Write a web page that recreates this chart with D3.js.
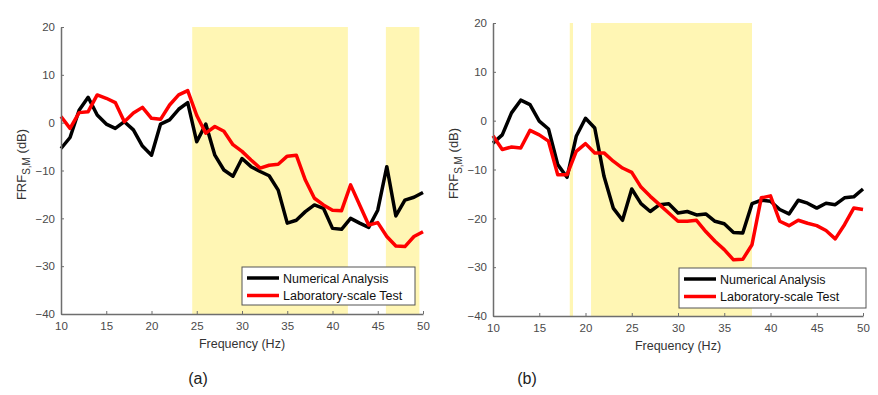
<!DOCTYPE html>
<html>
<head>
<meta charset="utf-8">
<script src="https://cdn.jsdelivr.net/npm/d3@7"></script>
<style>
  body { margin: 0; background: #fff; }
  svg text { font-family: "Liberation Sans", Arial, sans-serif; }
  .axis path, .axis line { stroke: #6e6e6e; }
  .axis text { fill: #4a4a4a; font-size: 11.5px; }
</style>
</head>
<body>
<div id="chart"></div>
<script>

// frequency points (Hz)
var freq = [10,11,12,13,14,15,16,17,18,19,20,21,22,23,24,25,26,27,28,29,30,
            31,32,33,34,35,36,37,38,39,40,41,42,43,44,45,46,47,48,49,50];

// panel (a)
var numA = [-5.4,-3.1,2.6,5.3,1.6,-0.3,-1.2,0.2,-1.5,-4.9,-6.8,-0.3,0.6,2.8,4.2,-4.0,-0.3,-6.8,-9.9,-11.2,-7.5,
            -9.2,-10.2,-11.1,-14.1,-21.0,-20.4,-18.6,-17.2,-17.9,-22.1,-22.3,-20.0,-21.0,-21.9,-18.3,-9.2,-19.5,-16.2,-15.6,-14.6];
var labA = [1.3,-1.2,2.1,2.3,5.8,5.1,4.2,0.2,2.0,3.2,0.9,0.7,3.7,5.8,6.7,1.5,-2.2,-0.8,-1.8,-4.6,-6.0,
            -7.8,-9.5,-8.9,-8.7,-7.0,-6.8,-12.0,-15.8,-17.2,-18.3,-18.4,-13.0,-17.2,-21.4,-20.9,-23.8,-25.8,-25.9,-23.8,-22.8];
var bandsA = [[24.5, 41.7], [45.9, 49.6]];

// panel (b)
var numB = [-4.6,-2.9,1.6,4.2,3.3,-0.1,-1.7,-9.0,-11.6,-3.2,0.5,-1.5,-11.4,-17.9,-20.4,-14.0,-17.0,-18.6,-17.2,-17.0,-18.9,
            -18.6,-19.3,-19.1,-20.6,-21.1,-22.9,-23.0,-17.0,-16.3,-16.5,-18.2,-19.1,-16.3,-16.9,-17.9,-16.9,-17.2,-15.8,-15.6,-14.0];
var labB = [-3.1,-5.9,-5.4,-5.6,-2.0,-2.9,-4.2,-11.1,-11.1,-6.3,-4.7,-6.6,-6.6,-8.3,-9.7,-10.6,-13.6,-15.5,-17.2,-18.9,-20.6,
            -20.6,-20.4,-22.7,-24.7,-26.4,-28.5,-28.4,-25.4,-15.8,-15.4,-20.6,-21.5,-20.4,-21.0,-21.5,-22.5,-24.2,-21.3,-17.9,-18.2];
var bandsB = [[18.3, 18.65], [20.6, 38.0]];

var xTicks = [10,15,20,25,30,35,40,45,50];
var yTicks = [-40,-30,-20,-10,0,10,20];
var seriesNames = ["Numerical Analysis", "Laboratory-scale Test"];
var seriesColors = ["#000000", "#ff0000"];

var svg = d3.select("#chart").append("svg")
  .attr("width", 878)
  .attr("height", 395);

var panels = [
  { num: numA, lab: labA, bands: bandsA, caption: "(a)", capX: 198,
    left: 61, right: 423, top: 27, bottom: 314, legend: {x: 242, y: 267, w: 173, h: 38} },
  { num: numB, lab: labB, bands: bandsB, caption: "(b)", capX: 527,
    left: 493, right: 863, top: 23, bottom: 316, legend: {x: 679, y: 268, w: 187, h: 40} }
];

panels.forEach(function(p) {
  var x = d3.scaleLinear().domain([10, 50]).range([p.left, p.right]);
  var y = d3.scaleLinear().domain([-40, 20]).range([p.bottom, p.top]);
  var g = svg.append("g");

  // shaded frequency bands
  g.selectAll(".band")
    .data(p.bands)
    .enter().append("rect")
    .attr("x", function(d) { return x(d[0]); })
    .attr("width", function(d) { return x(d[1]) - x(d[0]); })
    .attr("y", y(20))
    .attr("height", y(-40) - y(20))
    .attr("fill", "#fff6b4");

  // lines
  var line = d3.line()
    .x(function(d, i) { return x(freq[i]); })
    .y(function(d) { return y(d); });

  [p.num, p.lab].forEach(function(s, k) {
    g.append("path")
      .datum(s)
      .attr("d", line)
      .attr("fill", "none")
      .attr("stroke", seriesColors[k])
      .attr("stroke-width", 3.5)
      .attr("stroke-linejoin", "round");
  });

  // axes (ticks pointing inward like matlab)
  g.append("g")
    .attr("class", "axis")
    .attr("transform", "translate(0," + p.bottom + ")")
    .call(d3.axisBottom(x).tickValues(xTicks).tickSizeInner(-3).tickSizeOuter(0).tickPadding(8))
    .call(function(a) { a.select(".domain").attr("stroke-width", 1.5); });

  g.append("g")
    .attr("class", "axis")
    .attr("transform", "translate(" + p.left + ",0)")
    .call(d3.axisLeft(y).tickValues(yTicks).tickSizeInner(-3).tickSizeOuter(0).tickPadding(6))
    .call(function(a) { a.select(".domain").attr("stroke-width", 1.5); });

  // axis labels
  g.append("text")
    .attr("x", (p.left + p.right) / 2)
    .attr("y", p.bottom + 34)
    .attr("text-anchor", "middle")
    .attr("font-size", 12.5)
    .attr("fill", "#333")
    .text("Frequency (Hz)");

  var yl = g.append("text")
    .attr("transform", "translate(" + (p.left - 35) + "," + ((p.top + p.bottom) / 2 - 6) + ") rotate(-90)")
    .attr("text-anchor", "middle")
    .attr("font-size", 13)
    .attr("fill", "#333");
  yl.append("tspan").text("FRF");
  yl.append("tspan").attr("font-size", 10).attr("dy", 4).text("S,M");
  yl.append("tspan").attr("dy", -4).text(" (dB)");

  // legend
  var L = p.legend;
  var lg = g.append("g").attr("transform", "translate(" + L.x + "," + L.y + ")");
  lg.append("rect")
    .attr("width", L.w)
    .attr("height", L.h)
    .attr("fill", "#fff")
    .attr("stroke", "#555")
    .attr("stroke-width", 1);
  seriesNames.forEach(function(name, k) {
    var ry = 11 + k * 17.5;
    lg.append("line")
      .attr("x1", 5).attr("x2", 37)
      .attr("y1", ry).attr("y2", ry)
      .attr("stroke", seriesColors[k])
      .attr("stroke-width", 3.5);
    lg.append("text")
      .attr("x", 41)
      .attr("y", ry + 4.5)
      .attr("font-size", 12.5)
      .attr("fill", "#111")
      .text(name);
  });

  // caption
  svg.append("text")
    .attr("x", p.capX)
    .attr("y", 384)
    .attr("text-anchor", "middle")
    .attr("font-size", 16)
    .attr("fill", "#222")
    .text(p.caption);
});

</script>
</body>
</html>
